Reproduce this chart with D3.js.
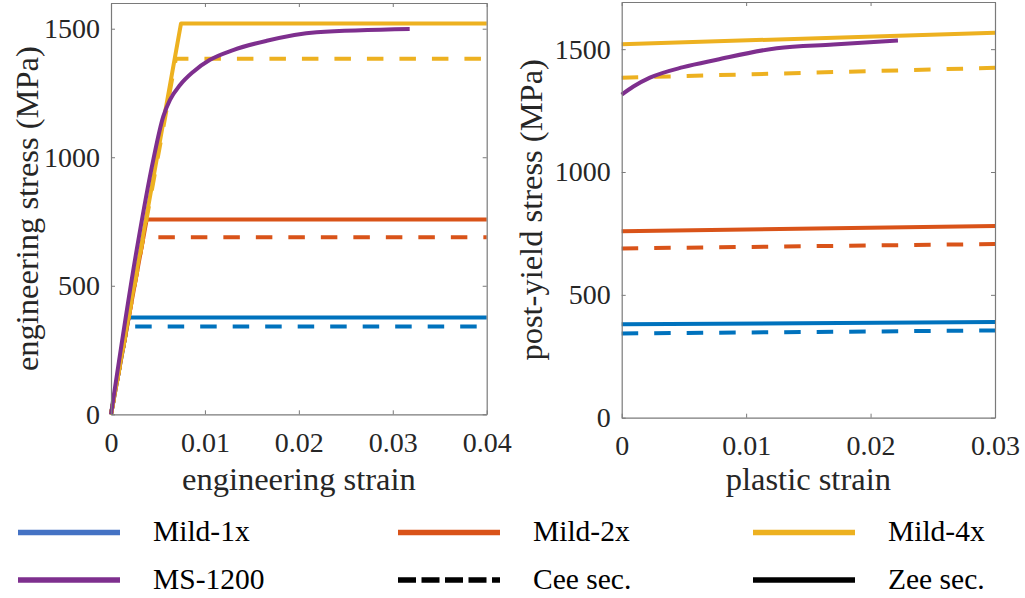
<!DOCTYPE html>
<html>
<head>
<meta charset="utf-8">
<script src="https://cdn.jsdelivr.net/npm/d3@7"></script>
<style>
  body { margin: 0; background: #fff; }
  svg, svg text { font-family: 'Liberation Serif', 'Times New Roman', serif; }
</style>
</head>
<body>
<div id="chart"></div>
<script>
// tick values
const engStrainTicks = [0, 0.01, 0.02, 0.03, 0.04];
const plasticStrainTicks = [0, 0.01, 0.02, 0.03];
const stressTicks = [0, 500, 1000, 1500];

// left panel: engineering stress vs engineering strain [strain, MPa]
const engMild1xZee = [[0, 0], [0.00188, 377], [0.04, 377]];
const engMild1xCee = [[0, 0], [0.00171, 342], [0.04, 342]];
const engMild2xZee = [[0, 0], [0.0038, 758], [0.04, 758]];
const engMild2xCee = [[0, 0], [0.00345, 689], [0.04, 689]];
const engMild4xZee = [[0, 0], [0.00745, 1520], [0.04, 1520]];
const engMild4xCee = [[0, 0], [0.0069, 1383], [0.04, 1383]];
const engMS1200 = [[0, 0], [0.00273, 639], [0.0045, 990], [0.00556, 1158], [0.00628, 1223],
  [0.00735, 1281], [0.00877, 1333], [0.01054, 1379], [0.013, 1417], [0.01658, 1453],
  [0.0219, 1486], [0.0318, 1499]];

// right panel: post-yield stress vs plastic strain [strain, MPa]
const plMild1xZee = [[0, 380], [0.03, 390]];
const plMild1xCee = [[0, 343], [0.03, 355]];
const plMild2xZee = [[0, 759], [0.03, 780]];
const plMild2xCee = [[0, 689], [0.03, 707]];
const plMild4xZee = [[0, 1520], [0.03, 1567]];
const plMild4xCee = [[0, 1384], [0.03, 1424]];
const plMS1200 = [[0, 1315], [0.00094, 1348], [0.00227, 1384], [0.00495, 1427], [0.00764, 1457],
  [0.01246, 1504], [0.017, 1519], [0.0222, 1535]];

const colors = { mild1x: "#0072BD", mild2x: "#D95319", mild4x: "#EDB120", ms: "#7E2F8E" };
const serif = "'Liberation Serif', 'Times New Roman', serif";

const svg = d3.select("#chart").append("svg")
  .attr("width", 1025)
  .attr("height", 598);

function panel(opt) {
  const x = d3.scaleLinear().domain(opt.xDomain).range([opt.left, opt.right]);
  const y = d3.scaleLinear().domain(opt.yDomain).range([opt.bottom, opt.top]);
  const g = svg.append("g");

  // series
  opt.series.forEach(s => {
    const line = d3.line().x(d => x(d[0])).y(d => y(d[1]))
      .curve(s.smooth ? d3.curveMonotoneX : d3.curveLinear);
    g.append("path")
      .attr("d", line(s.data))
      .attr("fill", "none")
      .attr("stroke", s.color)
      .attr("stroke-width", 4)
      .attr("stroke-dasharray", s.dashed ? "16.5,16" : null)
      .attr("stroke-linejoin", "round");
  });

  // axes with inward ticks, box on
  const styleAxis = sel => {
    sel.attr("font-family", serif).attr("font-size", 28);
    sel.select(".domain").attr("stroke", "#7a7a7a").attr("stroke-width", 1.2);
    sel.selectAll(".tick line").attr("stroke", "#7a7a7a").attr("stroke-width", 1);
    sel.selectAll("text").attr("fill", "#262626");
  };

  g.append("g").attr("transform", `translate(0,${opt.bottom})`)
    .call(d3.axisBottom(x).tickValues(opt.xTicks).tickFormat(d3.format("")).tickSizeInner(-4).tickSizeOuter(0).tickPadding(17.5))
    .call(styleAxis);
  g.append("g").attr("transform", `translate(0,${opt.top})`)
    .call(d3.axisTop(x).tickValues(opt.xTicks).tickFormat("").tickSizeInner(-4).tickSizeOuter(0))
    .call(styleAxis);
  g.append("g").attr("transform", `translate(${opt.left},0)`)
    .call(d3.axisLeft(y).tickValues(stressTicks).tickFormat(d3.format("")).tickSizeInner(-4).tickSizeOuter(0).tickPadding(11))
    .call(styleAxis);
  g.append("g").attr("transform", `translate(${opt.right},0)`)
    .call(d3.axisRight(y).tickValues(stressTicks).tickFormat("").tickSizeInner(-4).tickSizeOuter(0))
    .call(styleAxis);

  // axis labels
  g.append("text")
    .attr("x", (opt.left + opt.right) / 2)
    .attr("y", 490)
    .attr("text-anchor", "middle")
    .attr("fill", "#262626")
    .attr("font-family", serif)
    .attr("font-size", 32.5)
    .text(opt.xLabel);
  g.append("text")
    .attr("transform", `translate(${opt.yLabelX},${(opt.top + opt.bottom) / 2}) rotate(-90)`)
    .attr("text-anchor", "middle")
    .attr("fill", "#262626")
    .attr("font-family", serif)
    .attr("font-size", 32.5)
    .text(opt.yLabel);
}

panel({
  left: 111, right: 486.7, top: 3, bottom: 414.3,
  xDomain: [0, 0.04], yDomain: [0, 1600],
  xTicks: engStrainTicks,
  xLabel: "engineering strain", yLabel: "engineering stress (MPa)", yLabelX: 38,
  series: [
    { data: engMild1xZee, color: colors.mild1x },
    { data: engMild1xCee, color: colors.mild1x, dashed: true },
    { data: engMild2xZee, color: colors.mild2x },
    { data: engMild2xCee, color: colors.mild2x, dashed: true },
    { data: engMild4xZee, color: colors.mild4x },
    { data: engMild4xCee, color: colors.mild4x, dashed: true },
    { data: engMS1200, color: colors.ms, smooth: true }
  ]
});

panel({
  left: 621.7, right: 995, top: 2, bottom: 417.7,
  xDomain: [0, 0.03], yDomain: [0, 1692],
  xTicks: plasticStrainTicks,
  xLabel: "plastic strain", yLabel: "post-yield stress (MPa)", yLabelX: 542,
  series: [
    { data: plMild1xZee, color: colors.mild1x },
    { data: plMild1xCee, color: colors.mild1x, dashed: true },
    { data: plMild2xZee, color: colors.mild2x },
    { data: plMild2xCee, color: colors.mild2x, dashed: true },
    { data: plMild4xZee, color: colors.mild4x },
    { data: plMild4xCee, color: colors.mild4x, dashed: true },
    { data: plMS1200, color: colors.ms, smooth: true }
  ]
});

// legend
const legendItems = [
  { label: "Mild-1x", color: "#4472C4" },
  { label: "Mild-2x", color: colors.mild2x },
  { label: "Mild-4x", color: colors.mild4x },
  { label: "MS-1200", color: colors.ms },
  { label: "Cee sec.", color: "#000", dashed: true },
  { label: "Zee sec.", color: "#000" }
];
const legendCols = [18, 398, 753];
const legendRows = [532.5, 580];

const leg = svg.append("g").selectAll("g")
  .data(legendItems)
  .join("g")
  .attr("transform", (d, i) => `translate(${legendCols[i % 3]},${legendRows[Math.floor(i / 3)]})`);

leg.append("line")
  .attr("x1", 0).attr("x2", 102)
  .attr("stroke", d => d.color)
  .attr("stroke-width", 5.5)
  .attr("stroke-dasharray", d => d.dashed ? "18,5.5" : null);

leg.append("text")
  .attr("x", 135)
  .attr("y", 8.5)
  .attr("fill", "#000")
  .attr("font-family", serif)
  .attr("font-size", 29.5)
  .text(d => d.label);
</script>
</body>
</html>
